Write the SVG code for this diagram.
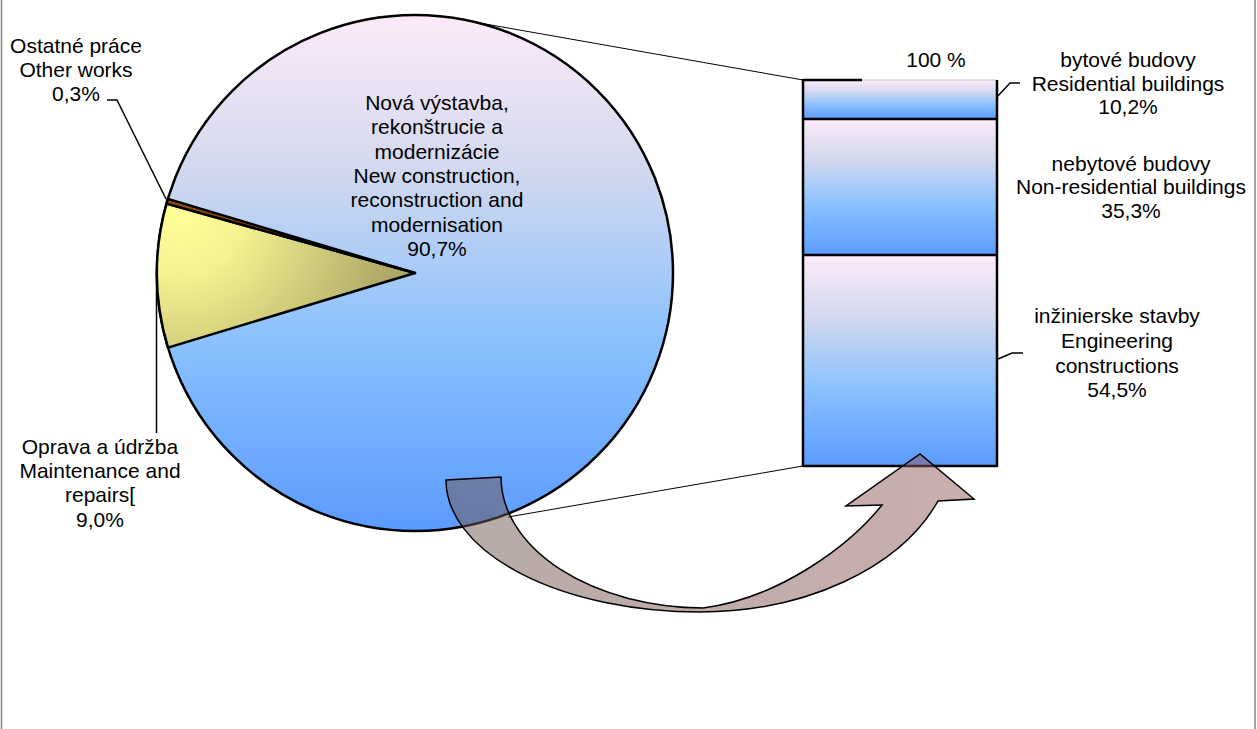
<svg xmlns="http://www.w3.org/2000/svg" width="1257" height="729" viewBox="0 0 1257 729">
  <defs>
    <linearGradient id="gBlue" x1="0" y1="0" x2="0" y2="1">
      <stop offset="0" stop-color="#FDEAF9"/>
      <stop offset="0.3" stop-color="#D2D8EE"/>
      <stop offset="0.62" stop-color="#8CC2FE"/>
      <stop offset="1" stop-color="#5B9BFF"/>
    </linearGradient>
    <radialGradient id="gYellow" gradientUnits="userSpaceOnUse" cx="180" cy="212" r="215">
      <stop offset="0" stop-color="#FFFF99"/>
      <stop offset="0.3" stop-color="#F4F190"/>
      <stop offset="1" stop-color="#ADA967"/>
    </radialGradient>
    <linearGradient id="gArrow" gradientUnits="userSpaceOnUse" x1="446" y1="0" x2="974" y2="0">
      <stop offset="0" stop-color="#6E5650"/>
      <stop offset="1" stop-color="#945E5E"/>
    </linearGradient>
  </defs>
  <style>
    text { font-family: "Liberation Sans", Arial, sans-serif; font-size: 21px; fill: #000; text-anchor: middle; }
    .lead { fill: none; stroke: #000; stroke-width: 1.5; }
    .thin { fill: none; stroke: #000; stroke-width: 1; }
    .edge { stroke: #000; stroke-width: 2.5; stroke-linejoin: round; }
  </style>
  <rect x="0" y="0" width="1257" height="729" fill="#fff"/>
  <rect x="1.5" y="-5" width="1253.5" height="745" fill="none" stroke="#808080" stroke-width="1.5"/>

  <g id="connectors">
    <line class="thin" x1="440" y1="16" x2="803" y2="80"/>
    <line class="thin" x1="508" y1="517" x2="803" y2="466"/>
    <polyline class="lead" points="107,100 117,100 166,199"/>
    <line class="lead" x1="156.5" y1="273" x2="156.5" y2="433"/>
    <polyline class="lead" points="997,97 1010,83 1020,83"/>
    <polyline class="lead" points="998,359 1012,353 1023,353"/>
  </g>

  <g id="pie">
    <circle id="slice-new" cx="415" cy="273" r="258" fill="url(#gBlue)" stroke="#000" stroke-width="2.5"/>
    <path id="slice-maint" class="edge" fill="url(#gYellow)" d="M415,273 L166.5,203.6 A258,258 0 0 0 168,347.6 Z"/>
    <path id="slice-other" class="edge" fill="#8B4A10" stroke-width="1.5" d="M415,273 L167.9,198.9 A258,258 0 0 0 166.5,203.6 Z"/>
  </g>

  <g id="bar">
    <rect x="803" y="80" width="194" height="39" fill="url(#gBlue)"/>
    <rect x="803" y="119" width="194" height="136" fill="url(#gBlue)"/>
    <rect x="803" y="255" width="194" height="211" fill="url(#gBlue)"/>
    <line x1="862" y1="80" x2="997" y2="80" stroke="#c8c8c8" stroke-width="1"/>
    <line x1="803" y1="80" x2="862" y2="80" stroke="#000" stroke-width="2.5"/>
    <path d="M803,79 L803,467 M997,80 L997,467 M803,466 L997,466 M803,119 L997,119 M803,255 L997,255" fill="none" stroke="#000" stroke-width="2.5"/>
  </g>

  <g id="arrow">
    <path d="M446,480 A254,132 0 0 0 700,612 A255,172 0 0 0 938,501 L974,499 L920,454 L846,506 L882,505 C850,545 780,598 703,608 A204,131 0 0 1 501,477 Z" fill="url(#gArrow)" fill-opacity="0.5" stroke="#000" stroke-width="1.5" stroke-linejoin="miter"/>
  </g>

  <g id="label-other">
    <text x="76" y="53">Ostatné práce</text>
    <text x="76" y="77">Other works</text>
    <text x="76" y="101">0,3%</text>
  </g>
  <g id="label-new">
    <text x="437" y="110">Nová výstavba,</text>
    <text x="437" y="134.3">rekonštrucie a</text>
    <text x="437" y="158.6">modernizácie</text>
    <text x="437" y="183">New construction,</text>
    <text x="437" y="207.3">reconstruction and</text>
    <text x="437" y="231.6">modernisation</text>
    <text x="437" y="256">90,7%</text>
  </g>
  <g id="label-maint">
    <text x="100" y="454">Oprava a údržba</text>
    <text x="100" y="478">Maintenance and</text>
    <text x="100" y="502">repairs[</text>
    <text x="100" y="526.5">9,0%</text>
  </g>
  <g id="label-100">
    <text x="936" y="67">100 %</text>
  </g>
  <g id="label-res">
    <text x="1128" y="67">bytové budovy</text>
    <text x="1128" y="90.5">Residential buildings</text>
    <text x="1128" y="114">10,2%</text>
  </g>
  <g id="label-nonres">
    <text x="1131" y="170.5">nebytové budovy</text>
    <text x="1131" y="194.3">Non-residential buildings</text>
    <text x="1131" y="218.3">35,3%</text>
  </g>
  <g id="label-eng">
    <text x="1117" y="323.3">inžinierske stavby</text>
    <text x="1117" y="348.3">Engineering</text>
    <text x="1117" y="372.7">constructions</text>
    <text x="1117" y="396.7">54,5%</text>
  </g>
</svg>
